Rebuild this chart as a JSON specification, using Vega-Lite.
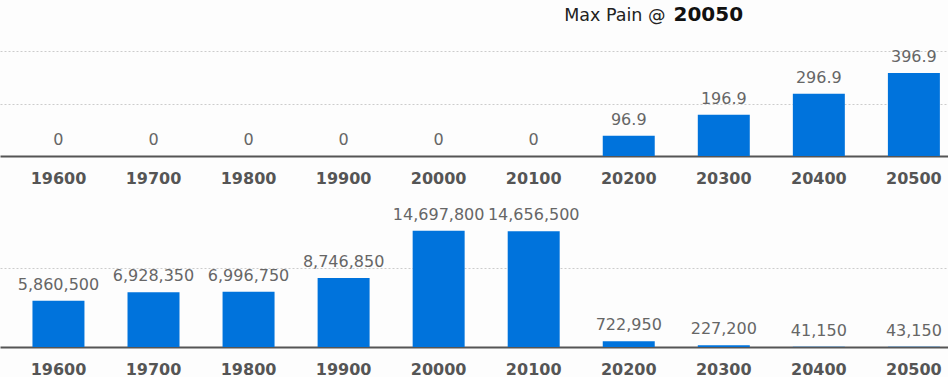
{
  "$schema": "https://vega.github.io/schema/vega-lite/v6.json",
  "padding": 0,
  "background": "#fdfdfd",
  "spacing": 40,
  "bounds": "flush",
  "config": {
    "view": {"stroke": null},
    "axisX": {
      "labelAngle": 0,
      "labelFont": "DejaVu Sans",
      "labelFontSize": 16,
      "labelFontWeight": "bold",
      "labelColor": "#555555",
      "labelPadding": 14,
      "ticks": false,
      "tickSize": 0,
      "domainColor": "#555555",
      "domainWidth": 2,
      "grid": false,
      "zindex": 1
    },
    "axisY": {
      "labels": false,
      "ticks": false,
      "tickSize": 0,
      "domain": false,
      "grid": true,
      "gridColor": "#cccccc",
      "gridDash": [2, 2],
      "gridWidth": 1,
      "zindex": 0
    }
  },
  "datasets": {
    "pain": [
      {"strike": "19600", "value": 0},
      {"strike": "19700", "value": 0},
      {"strike": "19800", "value": 0},
      {"strike": "19900", "value": 0},
      {"strike": "20000", "value": 0},
      {"strike": "20100", "value": 0},
      {"strike": "20200", "value": 96.9},
      {"strike": "20300", "value": 196.9},
      {"strike": "20400", "value": 296.9},
      {"strike": "20500", "value": 396.9}
    ],
    "oi": [
      {"strike": "19600", "value": 5860500},
      {"strike": "19700", "value": 6928350},
      {"strike": "19800", "value": 6996750},
      {"strike": "19900", "value": 8746850},
      {"strike": "20000", "value": 14697800},
      {"strike": "20100", "value": 14656500},
      {"strike": "20200", "value": 722950},
      {"strike": "20300", "value": 227200},
      {"strike": "20400", "value": 41150},
      {"strike": "20500", "value": 43150}
    ]
  },
  "vconcat": [
    {
      "width": 948,
      "height": 156,
      "data": {"name": "pain"},
      "encoding": {
        "x": {
          "field": "strike",
          "type": "nominal",
          "sort": null,
          "scale": {"paddingInner": 0.453, "paddingOuter": 0.2135, "align": 0.8},
          "axis": {
            "title": "20050",
            "titleX": 673,
            "titleY": -136,
            "titleAlign": "left",
            "titleBaseline": "alphabetic",
            "titleFont": "DejaVu Sans",
            "titleFontSize": 20,
            "titleFontWeight": "bold",
            "titleColor": "#111111"
          }
        },
        "y": {
          "field": "value",
          "type": "quantitative",
          "scale": {"domain": [0, 745], "nice": false},
          "axis": {
            "values": [250, 500],
            "title": "Max Pain @",
            "titleAngle": 0,
            "titleX": 665,
            "titleY": 20,
            "titleAlign": "right",
            "titleBaseline": "alphabetic",
            "titleFont": "DejaVu Sans",
            "titleFontSize": 17.5,
            "titleFontWeight": "normal",
            "titleColor": "#222222"
          }
        }
      },
      "layer": [
        {"mark": {"type": "bar", "color": "#0073dc"}},
        {
          "mark": {"type": "text", "dy": -11, "baseline": "alphabetic", "font": "DejaVu Sans", "fontSize": 16, "color": "#666666"},
          "encoding": {"text": {"field": "value", "type": "quantitative", "format": "~f"}}
        }
      ]
    },
    {
      "width": 948,
      "height": 151,
      "data": {"name": "oi"},
      "encoding": {
        "x": {
          "field": "strike",
          "type": "nominal",
          "sort": null,
          "scale": {"paddingInner": 0.453, "paddingOuter": 0.2135, "align": 0.8},
          "axis": {"title": null}
        },
        "y": {
          "field": "value",
          "type": "quantitative",
          "scale": {"domain": [0, 19110000], "nice": false},
          "axis": {"values": [10000000], "title": null}
        }
      },
      "layer": [
        {"mark": {"type": "bar", "color": "#0073dc"}},
        {
          "mark": {"type": "text", "dy": -11, "baseline": "alphabetic", "font": "DejaVu Sans", "fontSize": 16, "color": "#666666"},
          "encoding": {"text": {"field": "value", "type": "quantitative", "format": ","}}
        }
      ]
    }
  ]
}
